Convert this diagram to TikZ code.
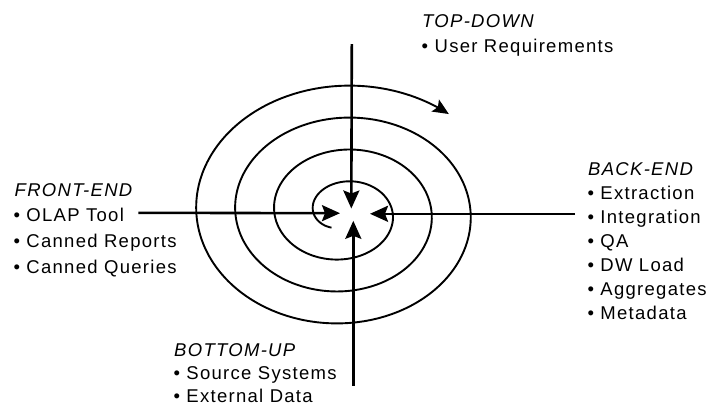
\documentclass[tikz,border=0pt]{standalone}
\usepackage{fontspec}
\setmainfont{Liberation Sans}
\newfontfamily\labfont[LetterSpace=7]{Liberation Sans}
\usetikzlibrary{arrows.meta}
\begin{document}
\begin{tikzpicture}[x=1pt,y=-1pt,
  lab/.style={anchor=base west,inner sep=0pt,font=\labfont\fontsize{18.5}{22}\selectfont},
  head/.style={lab,font=\labfont\itshape\fontsize{18.5}{22}\selectfont},
  axis/.style={line width=2.6pt,-{Stealth[length=18pt,width=16pt,inset=3pt]}},
  spiral/.style={line width=1.9pt,-{Stealth[length=16pt,width=14pt,inset=3pt]}}]
\useasboundingbox (0,0) rectangle (708,405);
% spiral
\draw[spiral] plot[domain=240:-1031,samples=400,smooth,variable=\t]
  ({343.2+(29.9+0.108333*(180-\t))*cos(\t)},{212.5-(22.8+0.088889*(180-\t))*sin(\t)});
% coordinates
\coordinate (topS) at (351.8,44);
\coordinate (topT) at (351.3,208.5);
\coordinate (botS) at (353.3,385.5);
\coordinate (botT) at (353.3,220.8);
\coordinate (lefS) at (138.3,212.8);
\coordinate (lefT) at (340,213.2);
\coordinate (rigS) at (575,213.8);
\coordinate (rigT) at (370,213.8);
\draw[axis] (topS) -- (topT);
\draw[axis] (botS) -- (botT);
\draw[axis] (lefS) -- (lefT);
\draw[axis] (rigS) -- (rigT);
% texts
\node[head] (tdh) at (422,27.3) {TOP-DOWN};
\node[lab] (td1) at (421.5,52.3) {• User Requirements};
\node[head] (feh) at (14.5,196) {FRONT-END};
\node[lab] (fe1) at (13.3,221.7) {• OLAP Tool};
\node[lab] (fe2) at (13.3,247.3) {• Canned Reports};
\node[lab] (fe3) at (13.3,273.3) {• Canned Queries};
\node[head] (beh) at (588,175) {BACK-END};
\node[lab] (be1) at (587.3,199.3) {• Extraction};
\node[lab] (be2) at (587.3,223.3) {• Integration};
\node[lab] (be3) at (587.3,247.3) {• QA};
\node[lab] (be4) at (587.3,271.5) {• DW Load};
\node[lab] (be5) at (587.3,295.3) {• Aggregates};
\node[lab] (be6) at (587.3,319.3) {• Metadata};
\node[head] (buh) at (174,356) {BOTTOM-UP};
\node[lab] (bu1) at (173.3,379.5) {• Source Systems};
\node[lab] (bu2) at (173.3,402.5) {• External Data};
\end{tikzpicture}
\end{document}
